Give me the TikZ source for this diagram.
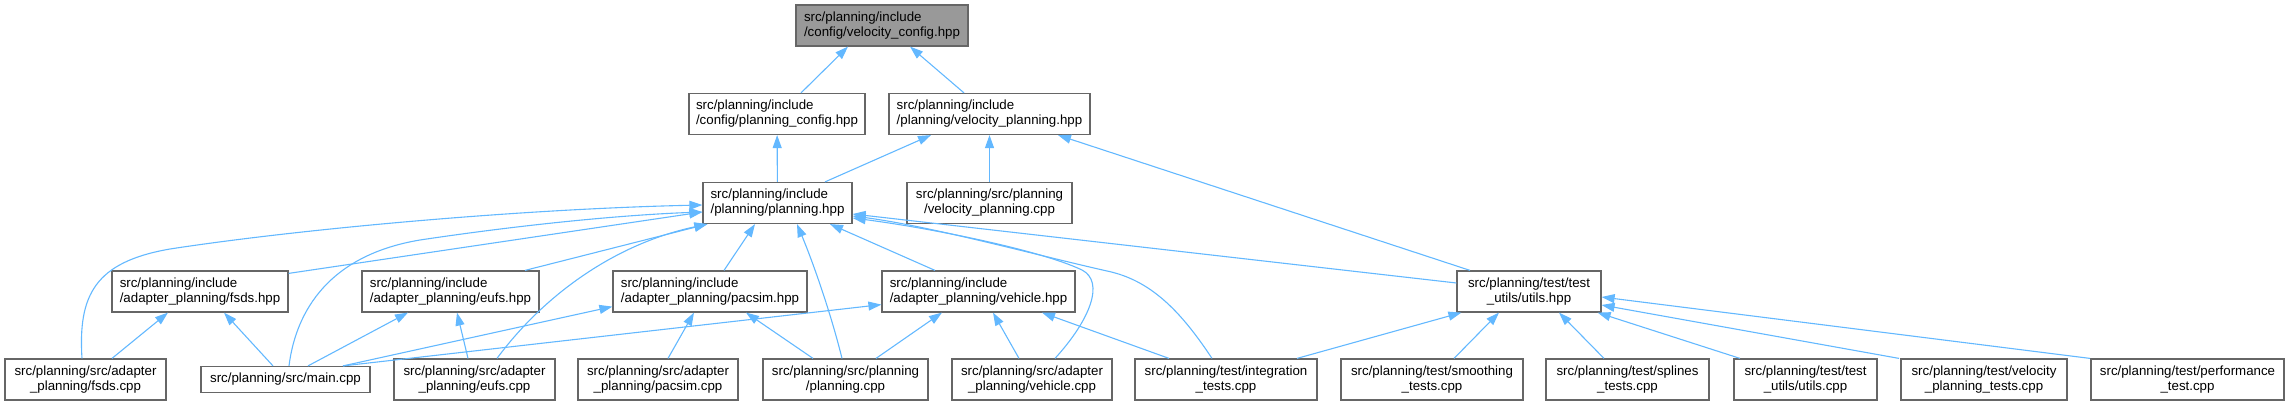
\documentclass[tikz,border=0pt]{standalone}
\usepackage{fontspec}
\setmainfont{Liberation Sans}
\usetikzlibrary{arrows.meta, positioning}
\definecolor{grey40}{HTML}{666666}
\definecolor{grey60}{HTML}{999999}
\definecolor{steelblue}{HTML}{63B8FF}
\tikzstyle{file}=[draw=grey40,fill=white,rectangle,line width=1.2pt,inner sep=0pt,minimum height=41pt]
\tikzstyle{inc}=[file,align=left]
\tikzstyle{src}=[file,align=center]
\tikzstyle{dep}=[->,draw=steelblue,line width=1.1pt]
\tikzstyle{every node}=[font=\fontsize{13.3}{15}\selectfont]

\begin{document}
\begin{tikzpicture}[x=1pt,y=-1pt,>={Triangle[length=13pt,width=9pt]}]
    \useasboundingbox (0,0) rectangle (2290,406);
    \node[file, fill=grey60, align=left, minimum width=172pt] (vcfg) at (882,25.5) {src/planning/include\\/config/velocity\_config.hpp};
    \node[inc, minimum width=176pt] (pcfg) at (777,114) {src/planning/include\\/config/planning\_config.hpp};
    \node[inc, minimum width=201pt, right of=pcfg, node distance=212.5pt] (vph) {src/planning/include\\/planning/velocity\_planning.hpp};
    \node[inc, minimum width=149pt] (ph) at (777.5,203) {src/planning/include\\/planning/planning.hpp};
    \node[src, minimum width=165pt, right of=ph, node distance=212pt] (vpc) {src/planning/src/planning\\/velocity\_planning.cpp};
    \node[inc, minimum width=176pt] (fsdsh) at (200,291.5) {src/planning/include\\/adapter\_planning/fsds.hpp};
    \node[inc, minimum width=177pt, right of=fsdsh, node distance=250.5pt] (eufsh) {src/planning/include\\/adapter\_planning/eufs.hpp};
    \node[inc, minimum width=194pt, right of=eufsh, node distance=259.5pt] (pacsimh) {src/planning/include\\/adapter\_planning/pacsim.hpp};
    \node[inc, minimum width=193pt, right of=pacsimh, node distance=268.5pt] (vehh) {src/planning/include\\/adapter\_planning/vehicle.hpp};
    \node[src, minimum width=144pt, right of=vehh, node distance=550.5pt] (utilsh) {src/planning/test/test\\\_utils/utils.hpp};
    \node[src, minimum width=161pt] (fsdsc) at (85.5,379.5) {src/planning/src/adapter\\\_planning/fsds.cpp};
    \node[src, minimum width=169pt, minimum height=26pt, right of=fsdsc, node distance=200pt] (main) {src/planning/src/main.cpp};
    \node[src, minimum width=161pt, right of=main, node distance=189pt] (eufsc) {src/planning/src/adapter\\\_planning/eufs.cpp};
    \node[src, minimum width=160pt, right of=eufsc, node distance=183.5pt] (pacsimc) {src/planning/src/adapter\\\_planning/pacsim.cpp};
    \node[src, minimum width=165pt, right of=pacsimc, node distance=187.5pt] (pc) {src/planning/src/planning\\/planning.cpp};
    \node[src, minimum width=160pt, right of=pc, node distance=186.5pt] (vehc) {src/planning/src/adapter\\\_planning/vehicle.cpp};
    \node[src, minimum width=182pt, right of=vehc, node distance=194pt] (integ) {src/planning/test/integration\\\_tests.cpp};
    \node[src, minimum width=182pt, right of=integ, node distance=206pt] (smooth) {src/planning/test/smoothing\\\_tests.cpp};
    \node[src, minimum width=163pt, right of=smooth, node distance=195.5pt] (splines) {src/planning/test/splines\\\_tests.cpp};
    \node[src, minimum width=143pt, right of=splines, node distance=178pt] (utilsc) {src/planning/test/test\\\_utils/utils.cpp};
    \node[src, minimum width=166pt, right of=utilsc, node distance=178.5pt] (vpt) {src/planning/test/velocity\\\_planning\_tests.cpp};
    \node[src, minimum width=193pt, right of=vpt, node distance=203.5pt] (perf) {src/planning/test/performance\\\_test.cpp};
    \draw[dep] ([xshift=24pt]pcfg.north) -- ([xshift=-34pt]vcfg.south);
    \draw[dep] ([xshift=-25.5pt]vph.north) -- ([xshift=28pt]vcfg.south);
    \draw[dep] (ph) -- (pcfg);
    \draw[dep] ([xshift=47.5pt]ph.north) -- ([xshift=-58.5pt]vph.south);
    \draw[dep] (vpc) -- (vph);
    \draw[dep] ([xshift=-59pt]utilsh.north) -- ([xshift=68.5pt]vph.south);
    \draw[dep] ([yshift=-3pt]fsdsh.north east) -- ([yshift=-9pt]ph.west);
    \draw[dep] ([xshift=74.5pt]eufsh.north) -- ([xshift=5pt]ph.south west);
    \draw[dep] ([xshift=14pt]pacsimh.north) -- ([xshift=-22.5pt]ph.south);
    \draw[dep] ([xshift=-43.5pt]vehh.north) -- ([xshift=52.5pt]ph.south);
    \draw[dep] ([yshift=8.5pt]utilsh.west) -- ([yshift=-11pt]ph.east);
    \draw[dep] ([xshift=-3.5pt]fsdsc.north) .. controls (78,295) and (95,262) .. (170,249) .. controls (300,229) and (520,209) .. ([yshift=-2pt]ph.west);
    \draw[dep] ([xshift=3.5pt]main.north) .. controls (296,310) and (330,255) .. (420,240) .. controls (520,225) and (620,215) .. ([yshift=-9pt]ph.west);
    \draw[dep] ([xshift=22.5pt]eufsc.north) .. controls (540,300) and (610,245) .. ([xshift=5pt]ph.south west);
    \draw[dep] ([xshift=-3.5pt]pc.north) .. controls (830,310) and (812,260) .. ([xshift=19.5pt]ph.south);
    \draw[dep] ([xshift=23pt]vehc.north) .. controls (1090,320) and (1105,282) .. (1082,270) .. controls (1040,250) and (930,228) .. ([yshift=-15pt]ph.east);
    \draw[dep] ([xshift=-14pt]integ.north) .. controls (1180,310) and (1150,280) .. (1107,271) .. controls (1040,256) and (930,226) .. ([yshift=-13pt]ph.east);
    \draw[dep] ([xshift=26.5pt]fsdsc.north) -- ([xshift=-32pt]fsdsh.south);
    \draw[dep] ([xshift=-12.5pt]main.north) -- ([xshift=24pt]fsdsh.south);
    \draw[dep] ([xshift=22.5pt]main.north) -- ([xshift=-42.5pt]eufsh.south);
    \draw[dep] ([xshift=57.5pt]main.north) -- ([yshift=6pt]pacsimh.south west);
    \draw[dep] ([xshift=57.5pt]main.north) -- ([yshift=8pt]vehh.south west);
    \draw[dep] ([xshift=-6.5pt]eufsc.north) -- ([xshift=6.5pt]eufsh.south);
    \draw[dep] ([xshift=10pt]pacsimc.north) -- ([xshift=-16pt]pacsimh.south);
    \draw[dep] ([xshift=-32.5pt]pc.north) -- ([xshift=36pt]pacsimh.south);
    \draw[dep] ([xshift=30.5pt]pc.north) -- ([xshift=-36.5pt]vehh.south);
    \draw[dep] ([xshift=-13pt]vehc.north) -- ([xshift=14.5pt]vehh.south);
    \draw[dep] ([xshift=-57pt]integ.north) -- ([xshift=63.5pt]vehh.south);
    \draw[dep] ([xshift=71pt]integ.north) -- ([xshift=5pt]utilsh.south west);
    \draw[dep] ([xshift=22pt]smooth.north) -- ([xshift=-30pt]utilsh.south);
    \draw[dep] ([xshift=-23.5pt]splines.north) -- ([xshift=30pt]utilsh.south);
    \draw[dep] ([xshift=-65.5pt]utilsc.north) -- ([xshift=-4pt]utilsh.south east);
    \draw[dep] ([xshift=-85pt]vpt.north) -- ([yshift=-13.5pt]utilsh.east);
    \draw[dep] ([xshift=-97.5pt]perf.north) -- ([yshift=-5.5pt]utilsh.east);
\end{tikzpicture}
\end{document}
